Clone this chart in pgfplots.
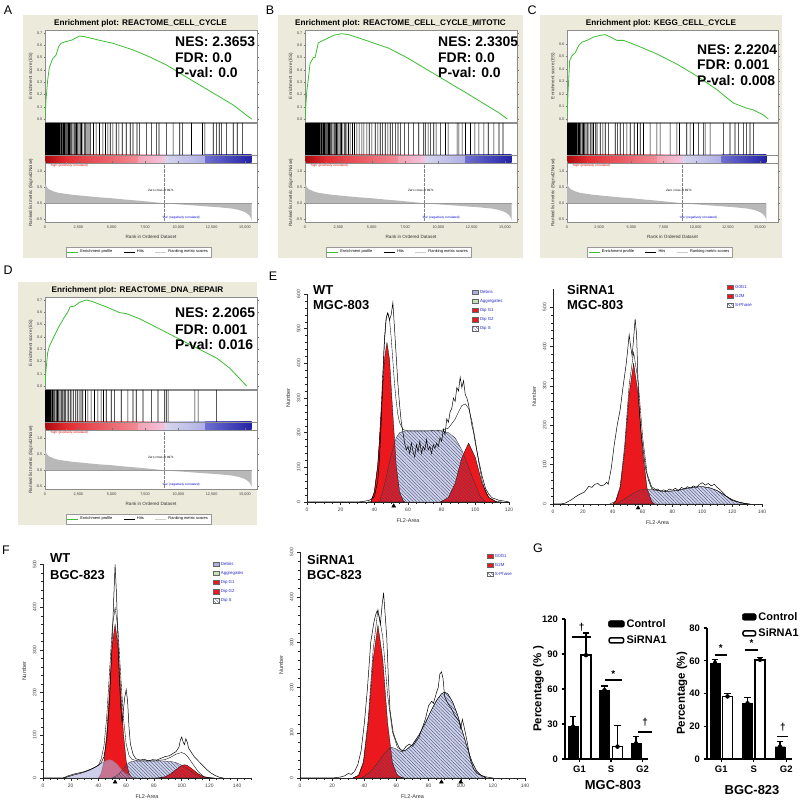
\documentclass[border=0pt]{standalone}
\usepackage{pgfplots}
\pgfplotsset{compat=1.18}
\usepackage{pgfplotstable}
\usepackage{fontspec}
\setmainfont{Liberation Sans}
\usetikzlibrary{patterns.meta}

\definecolor{boxbg}{RGB}{236,234,218}
\definecolor{esgreen}{RGB}{60,190,50}
\definecolor{sfill}{RGB}{208,212,232}
\definecolor{hatch}{RGB}{60,70,120}
\definecolor{cellred}{RGB}{235,25,30}
\definecolor{debris}{RGB}{175,175,222}
\definecolor{aggr}{RGB}{196,226,180}
\definecolor{legblue}{RGB}{40,40,200}
\definecolor{cbA}{RGB}{170,10,15}
\definecolor{cbB}{RGB}{225,45,50}
\definecolor{cbC}{RGB}{242,140,150}
\definecolor{cbD}{RGB}{244,196,222}
\definecolor{cbE}{RGB}{214,214,238}
\definecolor{cbF}{RGB}{175,175,228}
\definecolor{cbG}{RGB}{110,110,210}
\definecolor{cbH}{RGB}{35,35,165}

\newcommand{\ft}{\fontsize{3.8}{4.2}\selectfont}
\newcommand{\fs}{\fontsize{4.6}{5}\selectfont}
\newcommand{\fxs}{\fontsize{3.1}{3.4}\selectfont}
\newcommand{\ttlf}{\bfseries\fontsize{8.2}{9}\selectfont}
\newcommand{\nesf}{\bfseries\fontsize{14}{15}\selectfont}
\newcommand{\plab}{\fontsize{12.5}{13}\selectfont}
\newcommand{\cellf}{\bfseries\fontsize{13}{14}\selectfont}
\newcommand{\sigf}{\bfseries\fontsize{10}{10}\selectfont}

\tikzset{sh/.style={pattern={Lines[angle=-45,distance=2.4bp,line width=0.35bp]}, pattern color=hatch}}

\pgfplotstableread{
x y
0 0.66
50 0.58
150 0.50
300 0.44
600 0.38
1000 0.33
1500 0.30
2000 0.27
3000 0.23
4000 0.19
5000 0.16
6000 0.12
7000 0.085
8000 0.045
8971 0
10000 -0.03
11000 -0.06
12000 -0.09
13000 -0.12
14000 -0.16
14600 -0.21
15000 -0.27
15300 -0.36
15450 -0.46
15500 -0.53
}\rankdata

\pgfplotsset{
 /pgf/number format/assume math mode=true,
 gsea/.style={scale only axis, xmin=0, xmax=15900, scaled x ticks=false, scaled y ticks=false,
   axis line style={black!45, line width=0.4bp},
   tick style={black!55, line width=0.3bp}, major tick length=1.5bp, tick align=outside,
   ticklabel style={font=\ft, text=black!75, inner sep=1bp},
   label style={font=\fs, text=black!80},
   axis background/.style={fill=white}},
 gseaes/.style={gsea, height=92bp, ymin=-0.024, xtick=\empty,
   yticklabel style={/pgf/number format/.cd, fixed, fixed zerofill, precision=1},
   ylabel={Enrichment score (ES)},
   ylabel style={at={(axis description cs:-0.066,0.5)}, anchor=center}},
 gseahits/.style={gsea, height=40bp, ymin=-0.25, ymax=1, xtick=\empty, ytick=\empty},
 gsearank/.style={gsea, height=59bp, ymin=-0.58, ymax=1.26, ytick={-0.5,0,0.5,1},
   yticklabel style={/pgf/number format/.cd, fixed, fixed zerofill, precision=1},
   xtick={0,2500,5000,7500,10000,12500,15000},
   xticklabels={0,{2,500},{5,000},{7,500},{10,000},{12,500},{15,000}},
   xticklabel style={yshift=-1.5bp},
   xlabel={Rank in Ordered Dataset}, xlabel style={yshift=-1bp},
   ylabel={Ranked list metric (Signal2Noise)},
   ylabel style={at={(axis description cs:-0.066,0.5)}, anchor=center},
   legend columns=3,
   legend style={at={(axis description cs:0.44,-0.42)}, anchor=north, font=\fontsize{4}{4.4}\selectfont,
      draw=black!40, inner sep=1bp, /tikz/every even column/.append style={column sep=9bp}},
   legend image code/.code={\draw[##1] (0bp,0bp) -- (11bp,0bp);}},
 flow/.style={scale only axis, clip=false, axis lines=left,
   axis line style={-, line width=0.5bp, black!85}, xmin=0, ymin=0,
   tick align=outside, tick style={black!85, line width=0.4bp},
   major tick length=3bp, minor tick length=1.6bp,
   ticklabel style={font=\fontsize{5}{5}\selectfont, text=black!75},
   yticklabel style={rotate=90, anchor=south},
   xlabel={FL2-Area}, ylabel={Number},
   label style={font=\fontsize{5.5}{6}\selectfont, text=black!80},
   xtick distance=20, ytick distance=100, minor x tick num=3, minor y tick num=4,
   legend style={draw=none, fill=none, font=\fontsize{4.4}{4.8}\selectfont, text=legblue,
     inner sep=0pt, row sep=0.5bp, anchor=north west, cells={anchor=west}},
   legend image code/.code={\draw[##1, line width=0.3bp] (0bp,-1.9bp) rectangle (5.5bp,2.4bp);}},
 gbar/.style={scale only axis, clip=false, axis lines=left,
   axis line style={-, line width=1.4bp}, ymin=0,
   tick align=outside, tick style={black, line width=1.2bp}, major tick length=3.5bp,
   ticklabel style={font=\bfseries\fontsize{9.5}{10}\selectfont},
   xtick={0,1,2}, xticklabels={G1,S,G2},
   ylabel style={font=\bfseries\fontsize{11.5}{12}\selectfont, anchor=center},
   legend style={draw=none, fill=none, font=\bfseries\fontsize{11}{11}\selectfont,
     inner sep=0pt, row sep=3bp, anchor=north west, cells={anchor=west}},
   error bars/error bar style={line width=1.1bp, black},
   error bars/error mark options={rotate=90, mark size=3.3bp, line width=1.1bp, black}},
 errb/.style={only marks, mark=none, black, forget plot, error bars/.cd, y dir=plus, y explicit},
}

\newcommand{\cbar}{%
 \shade[left color=cbA, right color=cbB] (axis cs:0,-0.25) rectangle (axis cs:1600,0);
 \shade[left color=cbB, right color=cbC] (axis cs:1600,-0.25) rectangle (axis cs:7000,0);
 \shade[left color=cbC!60!cbD, right color=cbD] (axis cs:7000,-0.25) rectangle (axis cs:9000,0);
 \shade[left color=cbE, right color=cbF] (axis cs:9000,-0.25) rectangle (axis cs:12000,0);
 \shade[left color=cbG, right color=cbH] (axis cs:12000,-0.25) rectangle (axis cs:15500,0);
 \draw[black!45, line width=0.3bp] (axis cs:0,-0.25) -- (axis cs:17000,-0.25) (axis cs:0,0) -- (axis cs:17000,0);
}

\newcommand{\rankaxis}[1]{%
\begin{axis}[gsearank, #1]
 \addplot[fill=black!28, draw=none, forget plot] table {\rankdata} \closedcycle;
 \draw[black!40, line width=0.25bp] (axis cs:0,0) -- (axis cs:15500,0);
 \draw[black!50, densely dotted, line width=0.3bp] (axis cs:8971,-0.58) -- (axis cs:8971,1.26);
 \node[font=\fxs] at (axis cs:8700,0.4) {Zero cross at 8971};
 \node[font=\fxs, text=red!85!black, anchor=west] at (axis cs:150,1.17) {`high' (positively correlated)};
 \node[font=\fxs, text=blue!80!black] at (axis cs:10200,-0.46) {`low' (negatively correlated)};
 \addlegendimage{esgreen, line width=0.6bp}\addlegendentry{Enrichment profile}
 \addlegendimage{black, line width=0.6bp}\addlegendentry{Hits}
 \addlegendimage{black!20, line width=0.6bp}\addlegendentry{Ranking metric scores}
\end{axis}}

\begin{document}
\begin{tikzpicture}[x=1bp,y=1bp]
\useasboundingbox (0,0) rectangle (800,808);
\fill[white] (0,0) rectangle (800,808);

% ================= Panel labels
\node[font=\plab] at (8,798) {A};
\node[font=\plab] at (270,798) {B};
\node[font=\plab] at (532,798) {C};
\node[font=\plab] at (8,538) {D};
\node[font=\plab] at (273,532) {E};
\node[font=\plab] at (6,258) {F};
\node[font=\plab] at (538,260) {G};

% ================= Panel A
\fill[boxbg] (23,793) rectangle (258,550);
\node[font=\ttlf] at (140.5,785) {Enrichment plot: REACTOME\_CELL\_CYCLE};
\begin{axis}[gseaes, at={(45bp,778bp)}, anchor=north west, width=212bp, ymax=0.724, ytick={0,0.1,0.2,0.3,0.4,0.5,0.6,0.7}]
\addplot[esgreen, line width=0.8bp] coordinates {(0,0)(75,0.154)(200,0.316)(326,0.42)(577,0.49)(828,0.52)(1028,0.59)(1204,0.616)(1580,0.63)(1956,0.64)(2333,0.66)(2580,0.675)(2960,0.67)(3336,0.66)(4088,0.64)(5090,0.616)(6600,0.562)(7850,0.505)(9100,0.44)(10360,0.357)(11610,0.276)(12870,0.195)(14120,0.114)(15120,0.03)(15500,0)};
\end{axis}
\begin{axis}[gseahits, at={(45bp,685bp)}, anchor=north west, width=212bp]
\cbar
\addplot[ybar, bar width=0.6bp, fill=black, draw=none] coordinates {(15,1)(45,1)(80,1)(110,1)(150,1)(190,1)(230,1)(270,1)(310,1)(350,1)(400,1)(440,1)(480,1)(530,1)(580,1)(620,1)(670,1)(720,1)(770,1)(830,1)(880,1)(940,1)(1000,1)(1060,1)(1120,1)(1190,1)(1250,1)(1320,1)(1390,1)(1460,1)(1530,1)(1600,1)(1680,1)(1760,1)(1840,1)(1920,1)(2000,1)(2090,1)(2180,1)(2270,1)(2360,1)(2450,1)(2540,1)(2640,1)(2740,1)(2840,1)(2950,1)(3050,1)(3150,1)(3300,1)(3420,1)(3637,1)(3837,1)(4088,1)(4339,1)(4540,1)(4715,1)(4891,1)(5091,1)(5342,1)(5543,1)(5793,1)(6094,1)(6395,1)(6596,1)(6897,1)(7098,1)(7599,1)(7975,1)(8352,1)(8552,1)(9104,1)(9606,1)(10107,1)(10308,1)(10985,1)(11813,1)(11988,1)(12615,1)(12866,1)(13066,1)(13242,1)(13618,1)(14120,1)(14421,1)(14822,1)};
\end{axis}
\rankaxis{at={(45bp,645bp)}, anchor=north west, width=212bp}
\node[font=\nesf, anchor=west, inner sep=0] at (175,766) {NES: 2.3653};
\node[font=\nesf, anchor=west, inner sep=0] at (175,750) {FDR: 0.0};
\node[font=\nesf, anchor=west, inner sep=0] at (175,735) {P-val: 0.0};

% ================= Panel B
\fill[boxbg] (278,793) rectangle (523,550);
\node[font=\ttlf] at (400.5,785) {Enrichment plot: REACTOME\_CELL\_CYCLE\_MITOTIC};
\begin{axis}[gseaes, at={(305bp,778bp)}, anchor=north west, width=212bp, ymax=0.724, ytick={0,0.1,0.2,0.3,0.4,0.5,0.6,0.7}]
\addplot[esgreen, line width=0.8bp] coordinates {(0,0)(125,0.216)(250,0.327)(376,0.45)(627,0.5)(752,0.5)(1003,0.62)(1379,0.64)(1756,0.66)(2132,0.68)(2383,0.686)(2759,0.694)(3260,0.686)(4013,0.66)(5016,0.623)(6270,0.576)(7524,0.507)(9030,0.41)(10530,0.313)(12040,0.216)(13290,0.133)(14550,0.05)(15170,0)};
\end{axis}
\begin{axis}[gseahits, at={(305bp,685bp)}, anchor=north west, width=212bp]
\cbar
\addplot[ybar, bar width=0.6bp, fill=black, draw=none] coordinates {(15,1)(45,1)(80,1)(110,1)(150,1)(190,1)(230,1)(270,1)(310,1)(350,1)(400,1)(440,1)(480,1)(530,1)(580,1)(620,1)(670,1)(720,1)(770,1)(830,1)(880,1)(940,1)(1000,1)(1060,1)(1120,1)(1190,1)(1250,1)(1320,1)(1390,1)(1460,1)(1530,1)(1600,1)(1680,1)(1760,1)(1840,1)(1920,1)(2000,1)(2090,1)(2180,1)(2270,1)(2360,1)(2450,1)(2540,1)(2640,1)(2740,1)(2840,1)(2950,1)(3050,1)(3135,1)(3260,1)(3386,1)(3561,1)(3712,1)(3887,1)(4063,1)(4264,1)(4414,1)(4640,1)(4815,1)(5016,1)(5267,1)(5467,1)(5643,1)(5819,1)(6019,1)(6220,1)(6395,1)(6571,1)(6772,1)(6972,1)(7148,1)(7474,1)(7775,1)(8151,1)(8527,1)(8903,1)(9029,1)(9229,1)(9405,1)(9656,1)(9831,1)(10157,1)(10534,1)(10734,1)(11411,1)(11537,1)(11788,1)(12038,1)(12415,1)(12741,1)(13042,1)(13418,1)(13744,1)(14170,1)(14546,1)(14847,1)};
\end{axis}
\rankaxis{at={(305bp,645bp)}, anchor=north west, width=212bp}
\node[font=\nesf, anchor=west, inner sep=0] at (438,766) {NES: 2.3305};
\node[font=\nesf, anchor=west, inner sep=0] at (438,750) {FDR: 0.0};
\node[font=\nesf, anchor=west, inner sep=0] at (438,735) {P-val: 0.0};

% ================= Panel C
\fill[boxbg] (540,793) rectangle (782,550);
\node[font=\ttlf] at (661,785) {Enrichment plot: KEGG\_CELL\_CYCLE};
\begin{axis}[gseaes, at={(567bp,778bp)}, anchor=north west, width=211bp, xmax=16400, ymax=0.71, ytick={0,0.1,0.2,0.3,0.4,0.5,0.6}]
\addplot[esgreen, line width=0.8bp] coordinates {(0,0)(78,0.208)(207,0.465)(388,0.505)(646,0.53)(905,0.586)(1164,0.613)(1551,0.627)(2069,0.654)(2586,0.667)(2974,0.673)(3362,0.654)(3879,0.627)(4396,0.627)(5430,0.586)(6982,0.519)(8534,0.438)(10085,0.343)(11637,0.235)(12930,0.127)(13965,0.086)(14482,0.073)(15258,0.032)(15645,0)};
\end{axis}
\begin{axis}[gseahits, at={(567bp,685bp)}, anchor=north west, width=211bp, xmax=16400]
\cbar
\addplot[ybar, bar width=0.6bp, fill=black, draw=none] coordinates {(15,1)(45,1)(80,1)(120,1)(160,1)(200,1)(250,1)(300,1)(350,1)(400,1)(450,1)(510,1)(570,1)(630,1)(700,1)(770,1)(850,1)(930,1)(1010,1)(1100,1)(1190,1)(1280,1)(1380,1)(1480,1)(1580,1)(1700,1)(1820,1)(1940,1)(2060,1)(2200,1)(2330,1)(2586,1)(2793,1)(2974,1)(3233,1)(3750,1)(3931,1)(4138,1)(4396,1)(4655,1)(4913,1)(5224,1)(5482,1)(5689,1)(5948,1)(6465,1)(6982,1)(7241,1)(8017,1)(8534,1)(8741,1)(9310,1)(9568,1)(9827,1)(10215,1)(10603,1)(10732,1)(11120,1)(12154,1)(12671,1)(13059,1)(13318,1)(13706,1)(13964,1)(14223,1)(14482,1)};
\end{axis}
\rankaxis{at={(567bp,645bp)}, anchor=north west, width=211bp, xmax=16400}
\node[font=\nesf, anchor=west, inner sep=0] at (697,758) {NES: 2.2204};
\node[font=\nesf, anchor=west, inner sep=0] at (697,743) {FDR: 0.001};
\node[font=\nesf, anchor=west, inner sep=0] at (697,727) {P-val: 0.008};

% ================= Panel D
\fill[boxbg] (18,526) rectangle (257,283);
\node[font=\ttlf] at (137.5,518) {Enrichment plot: REACTOME\_DNA\_REPAIR};
\begin{axis}[gseaes, at={(45bp,511bp)}, anchor=north west, width=212bp, ymax=0.724, ytick={0,0.1,0.2,0.3,0.4,0.5,0.6,0.7}]
\addplot[esgreen, line width=0.8bp] coordinates {(0,0)(75,0.13)(200,0.27)(326,0.325)(577,0.38)(828,0.436)(1078,0.49)(1455,0.56)(1706,0.60)(1881,0.644)(2207,0.65)(2583,0.68)(3085,0.70)(3587,0.686)(4088,0.664)(4590,0.644)(5593,0.597)(6095,0.589)(7098,0.547)(8603,0.464)(10108,0.38)(11613,0.297)(12867,0.228)(13870,0.144)(15125,0)};
\end{axis}
\begin{axis}[gseahits, at={(45bp,418bp)}, anchor=north west, width=212bp]
\cbar
\addplot[ybar, bar width=0.6bp, fill=black, draw=none] coordinates {(20,1)(60,1)(110,1)(160,1)(220,1)(280,1)(340,1)(400,1)(460,1)(530,1)(600,1)(680,1)(760,1)(850,1)(940,1)(1030,1)(1130,1)(1230,1)(1330,1)(1440,1)(1550,1)(1660,1)(1780,1)(1900,1)(2020,1)(2150,1)(2280,1)(2420,1)(2560,1)(2700,1)(2834,1)(3035,1)(3210,1)(3461,1)(3712,1)(3963,1)(4213,1)(4389,1)(4590,1)(4966,1)(5217,1)(5718,1)(6220,1)(6596,1)(6847,1)(7348,1)(7975,1)(8477,1)(8979,1)(9104,1)(9230,1)(11236,1)(11487,1)(12866,1)};
\end{axis}
\rankaxis{at={(45bp,378bp)}, anchor=north west, width=212bp}
\node[font=\nesf, anchor=west, inner sep=0] at (175,495) {NES: 2.2065};
\node[font=\nesf, anchor=west, inner sep=0] at (175,478) {FDR: 0.001};
\node[font=\nesf, anchor=west, inner sep=0] at (175,463) {P-val: 0.016};

% ================= Panel E left: WT MGC-803
\begin{axis}[flow, at={(307bp,306bp)}, anchor=south west, width=202bp, height=208bp, xmax=120, ymax=600,
  legend style={at={(0.817,1.029)}}]
\addplot[fill=sfill, draw=none, forget plot] coordinates {(43,0)(45,30)(47,70)(49,115)(51,155)(53,185)(55,200)(58,205)(70,205)(80,205)(84,200)(88,185)(92,150)(96,100)(100,50)(103,15)(106,0)} \closedcycle;
\addplot[fill=cellred, draw=black, line width=0.3bp, forget plot] coordinates {(38,0)(40,29)(42,105)(44,253)(46,412)(47.5,460)(49,412)(51,253)(53,105)(55,29)(57,5)(58,0)} \closedcycle;
\addplot[fill=cellred, draw=black, line width=0.3bp, forget plot] coordinates {(79,0)(80,2)(84,13)(88,54)(92,128)(96,170)(100,128)(104,54)(108,13)(112,2)(113,0)} \closedcycle;
\addplot[sh, draw=black!80, line width=0.3bp, forget plot] coordinates {(43,0)(45,30)(47,70)(49,115)(51,155)(53,185)(55,200)(58,205)(70,205)(80,205)(84,200)(88,185)(92,150)(96,100)(100,50)(103,15)(106,0)} \closedcycle;
\addplot[black, line width=0.35bp, forget plot] coordinates {(36,0)(38,1)(40,29)(42,105)(43,170)(44,268)(45,369)(46,462)(47,524)(47.5,540)(48,546)(49,527)(50,474)(51,408)(52,341)(53,290)(54,251)(55,229)(57,209)(60,205)(70,205)(80,207)(84,213)(88,239)(90,260)(92,278)(94,283)(96,270)(98,233)(100,178)(102,115)(104,62)(106,29)(108,13)(112,2)(116,0)};
\addplot[black, line width=0.5bp, forget plot] coordinates {(0,0)(30,0)(34,2)(37,5)(40,15)(42,60)(43,120)(44,220)(45,350)(46,470)(47,530)(48,545)(49,525)(50,540)(51,575)(52,500)(53,420)(54,340)(55,280)(56,230)(57,200)(58,170)(59,150)(60,160)(61,140)(62,170)(63,145)(64,130)(65,165)(66,145)(67,175)(68,140)(69,160)(70,150)(71,180)(72,150)(73,160)(74,140)(75,165)(76,155)(77,170)(78,160)(79,185)(80,175)(81,210)(82,195)(83,240)(84,230)(85,260)(86,270)(87,300)(88,290)(89,330)(90,320)(91,360)(92,330)(93,350)(94,310)(95,300)(96,280)(97,250)(98,220)(99,200)(100,170)(102,120)(104,75)(106,40)(108,22)(110,12)(114,5)(118,2)(120,0)};
\addplot[only marks, mark=triangle*, mark size=2.2bp, black, forget plot] coordinates {(51.5,-11.5)};
\addlegendimage{fill=debris, draw=black!60}\addlegendentry{Debris}
\addlegendimage{fill=aggr, draw=black!60}\addlegendentry{Aggregates}
\addlegendimage{fill=cellred, draw=black!60}\addlegendentry{Dip G1}
\addlegendimage{fill=cellred, draw=black!60}\addlegendentry{Dip G2}
\addlegendimage{sh, draw=black!60}\addlegendentry{Dip S}
\end{axis}
\node[font=\cellf, anchor=west, inner sep=0] at (313,518) {WT};
\node[font=\cellf, anchor=west, inner sep=0] at (313,503) {MGC-803};

% ================= Panel E right: SiRNA1 MGC-803
\begin{axis}[flow, at={(553bp,304bp)}, anchor=south west, width=209bp, height=214.7bp, xmax=140, ymax=545,
  legend style={at={(0.833,1.029)}}]
\addplot[fill=sfill, draw=none, forget plot] coordinates {(42,0)(46,8)(50,18)(54,28)(58,35)(62,38)(66,37)(70,34)(75,32)(80,33)(85,36)(90,40)(95,43)(100,44)(105,41)(110,34)(115,22)(120,11)(125,4)(130,0)} \closedcycle;
\addplot[fill=cellred, draw=black, line width=0.3bp, forget plot] coordinates {(40,0)(42,7)(45,40)(48,135)(51,280)(54,357)(57,280)(60,135)(63,40)(66,7)(68,0)} \closedcycle;
\addplot[sh, draw=black!80, line width=0.3bp, forget plot] coordinates {(42,0)(46,8)(50,18)(54,28)(58,35)(62,38)(66,37)(70,34)(75,32)(80,33)(85,36)(90,40)(95,43)(100,44)(105,41)(110,34)(115,22)(120,11)(125,4)(130,0)} \closedcycle;
\addplot[black, line width=0.35bp, forget plot] coordinates {(38,0)(42,7)(45,45)(48,148)(51,302)(54,385)(57,313)(60,171)(63,78)(66,44)(70,34)(75,32)(80,33)(85,36)(90,40)(95,43)(100,44)(105,41)(110,34)(115,22)(120,11)(125,4)(130,0)};
\addplot[black, line width=0.5bp, forget plot] coordinates {(0,0)(5,0)(8,2)(12,10)(15,18)(18,25)(21,30)(24,45)(26,42)(28,50)(30,52)(32,46)(34,48)(36,55)(37,50)(39,90)(41,150)(43,200)(45,240)(47,300)(49,355)(50,390)(51,430)(52,400)(53,375)(54,420)(55,470)(56,430)(57,300)(58,230)(59,180)(60,150)(62,90)(64,60)(66,40)(68,35)(70,38)(72,32)(74,36)(76,33)(78,38)(80,35)(82,40)(84,34)(86,42)(88,38)(90,44)(92,40)(94,46)(96,42)(98,50)(100,54)(102,48)(104,52)(106,46)(108,50)(110,42)(112,36)(114,28)(116,20)(118,14)(120,9)(124,5)(128,2)(132,0)};
\addplot[only marks, mark=triangle*, mark size=2.2bp, black, forget plot] coordinates {(57,-10)};
\addlegendimage{fill=cellred, draw=black!60}\addlegendentry{G0G1}
\addlegendimage{fill=cellred, draw=black!60}\addlegendentry{G2M}
\addlegendimage{sh, draw=black!60}\addlegendentry{S-Phase}
\end{axis}
\node[font=\cellf, anchor=west, inner sep=0] at (567,518) {SiRNA1};
\node[font=\cellf, anchor=west, inner sep=0] at (567,503) {MGC-803};

% ================= Panel F left: WT BGC-823
\begin{axis}[flow, at={(43bp,30bp)}, anchor=south west, width=208bp, height=213.5bp, xmax=150, ymax=500,
  legend style={at={(0.817,1.021)}}]
\addplot[fill=sfill, draw=none, forget plot] coordinates {(50,0)(53,5)(56,14)(58,22)(60,30)(62,36)(64,39)(68,40)(75,40)(85,40)(92,39)(96,36)(100,30)(104,22)(108,13)(112,5)(116,0)} \closedcycle;
\addplot[fill=cellred, draw=black, line width=0.3bp, forget plot] coordinates {(40,0)(42,11)(44,39)(46,104)(48,207)(50,313)(52,360)(54,313)(56,207)(58,104)(60,39)(62,11)(64,2)(65,0)} \closedcycle;
\addplot[fill=cellred, draw=black, line width=0.3bp, forget plot] coordinates {(82,0)(84,0.7)(88,3)(92,9.5)(96,20)(100,29.6)(102,31)(104,29.6)(108,20)(112,9.5)(116,3)(120,0.7)(122,0)} \closedcycle;
\addplot[fill=debris, fill opacity=0.6, draw=black!50, line width=0.3bp, forget plot] coordinates {(15,0)(18,3)(22,7)(26,10)(30,14)(34,19)(38,26)(42,34)(46,41)(48,43)(50,41)(52,36)(54,30)(56,22)(58,15)(60,10)(62,6)(64,3)(66,1)(68,0)} \closedcycle;
\addplot[sh, draw=black!80, line width=0.3bp, forget plot] coordinates {(50,0)(53,5)(56,14)(58,22)(60,30)(62,36)(64,39)(68,40)(75,40)(85,40)(92,39)(96,36)(100,30)(104,22)(108,13)(112,5)(116,0)} \closedcycle;
\addplot[black, line width=0.35bp, forget plot] coordinates {(15,0)(18,3)(22,7)(26,10)(30,14)(34,19)(38,26)(40,30)(42,45)(44,76)(46,145)(48,250)(50,354)(52,399)(54,351)(56,243)(58,141)(60,79)(62,53)(64,44)(68,40)(80,40)(88,43)(92,48.5)(96,56)(100,59.6)(102,57)(104,51.6)(108,33)(112,14.5)(116,3)(120,0.7)(124,0)};
\addplot[black, line width=0.5bp, forget plot] coordinates {(0,0)(14,0)(16,2)(18,5)(22,9)(26,12)(30,15)(34,20)(38,26)(40,30)(42,36)(44,50)(46,90)(48,180)(49,260)(50,330)(51,420)(52,500)(53,430)(54,330)(55,240)(56,170)(57,130)(58,160)(59,190)(60,207)(61,180)(62,120)(63,80)(65,55)(67,45)(70,42)(73,44)(76,40)(79,43)(82,42)(85,46)(88,50)(91,52)(94,58)(96,62)(98,72)(99,88)(100,96)(101,85)(102,78)(103,92)(104,84)(105,70)(107,60)(109,50)(112,40)(115,30)(118,20)(121,12)(124,6)(127,2)(130,0)};
\addplot[only marks, mark=triangle*, mark size=2.2bp, black, forget plot] coordinates {(52,-9.4)};
\addlegendimage{fill=debris, draw=black!60}\addlegendentry{Debris}
\addlegendimage{fill=aggr, draw=black!60}\addlegendentry{Aggregates}
\addlegendimage{fill=cellred, draw=black!60}\addlegendentry{Dip G1}
\addlegendimage{fill=cellred, draw=black!60}\addlegendentry{Dip G2}
\addlegendimage{sh, draw=black!60}\addlegendentry{Dip S}
\end{axis}
\node[font=\cellf, anchor=west, inner sep=0] at (50,250) {WT};
\node[font=\cellf, anchor=west, inner sep=0] at (50,233) {BGC-823};

% ================= Panel F right: SiRNA1 BGC-823
\begin{axis}[flow, at={(300bp,30bp)}, anchor=south west, width=225bp, height=226bp, xmax=140, ymax=500,
  legend style={at={(0.831,1.0)}}]
\addplot[fill=sfill, draw=none, forget plot] coordinates {(38,0)(41,6)(44,14)(48,32)(52,52)(55,64)(57,68)(60,64)(63,58)(66,62)(70,74)(74,95)(78,122)(82,152)(85,172)(88,186)(90,190)(92,186)(95,168)(98,140)(101,104)(104,68)(107,36)(110,15)(113,5)(116,0)} \closedcycle;
\addplot[fill=cellred, draw=black, line width=0.3bp, forget plot] coordinates {(33,0)(36.5,6)(39.5,34)(42.5,122)(45.5,262)(48.5,338)(51.5,262)(54.5,122)(57.5,34)(60.5,6)(63.5,1)(65,0)} \closedcycle;
\addplot[sh, draw=black!80, line width=0.3bp, forget plot] coordinates {(38,0)(41,6)(44,14)(48,32)(52,52)(55,64)(57,68)(60,64)(63,58)(66,62)(70,74)(74,95)(78,122)(82,152)(85,172)(88,186)(90,190)(92,186)(95,168)(98,140)(101,104)(104,68)(107,36)(110,15)(113,5)(116,0)} \closedcycle;
\addplot[black, line width=0.35bp, forget plot] coordinates {(33,0)(36.5,6)(39.5,37)(42.5,132)(45.5,283)(48.5,373)(51.5,312)(54.5,184)(57.5,102)(60.5,69)(63.5,59)(66,62)(70,74)(74,95)(78,122)(82,152)(85,172)(88,186)(90,190)(92,186)(95,168)(98,140)(101,104)(104,68)(107,36)(110,15)(113,5)(116,0)};
\addplot[black, line width=0.5bp, forget plot] coordinates {(0,0)(20,0)(25,2)(28,5)(30,10)(32,8)(34,15)(36,30)(38,60)(40,120)(42,200)(44,300)(46,345)(47,360)(48,370)(49,360)(50,340)(51,380)(52,410)(53,360)(54,310)(55,220)(56,150)(58,100)(60,80)(62,65)(64,60)(66,70)(68,75)(70,70)(72,80)(74,90)(76,110)(78,130)(80,160)(82,170)(83,165)(85,190)(86,200)(87,230)(88,235)(89,220)(90,180)(92,165)(94,155)(96,140)(98,130)(99,125)(100,110)(101,130)(102,115)(104,80)(106,40)(108,20)(110,10)(115,3)(120,0)};
\addplot[only marks, mark=triangle*, mark size=2.2bp, black, forget plot] coordinates {(88,-8.8)(100,-8.8)};
\addlegendimage{fill=cellred, draw=black!60}\addlegendentry{G0G1}
\addlegendimage{fill=cellred, draw=black!60}\addlegendentry{G2M}
\addlegendimage{sh, draw=black!60}\addlegendentry{S-Phase}
\end{axis}
\node[font=\cellf, anchor=west, inner sep=0] at (307,248) {SiRNA1};
\node[font=\cellf, anchor=west, inner sep=0] at (307,233) {BGC-823};

% ================= Panel G left: MGC-803
\begin{axis}[gbar, at={(565bp,49bp)}, anchor=south west, width=83bp, height=140bp,
  xmin=-0.46, xmax=2.175, ymax=120, ytick={0,30,60,90,120},
  ylabel={Percentage (\% )}, ylabel style={at={(axis description cs:-0.32,0.5)}},
  legend style={at={(0.518,1.014)}}]
\addplot[errb] coordinates {(-0.206,27.7) +- (0,8.6) (0.794,59) +- (0,3.6) (1.794,13.4) +- (0,5.6) (0.206,89) +- (0,19) (1.206,10.6) +- (0,18.4)};
\addplot[ybar, bar width=0.317, bar shift=-0.206, fill=black, draw=black, forget plot] coordinates {(0,27.7) (1,59) (2,13.4)};
\addplot[ybar, bar width=0.317, bar shift=0.206, fill=white, draw=black, line width=1.5bp, forget plot] coordinates {(0,89) (1,10.6)};
\draw[line width=1.8bp] (axis cs:-0.25,104.6) -- (axis cs:0.38,104.6);
\node[font=\sigf] at (axis cs:0.065,113) {†};
\draw[line width=1.8bp] (axis cs:0.81,67.7) -- (axis cs:1.34,67.7);
\node[font=\sigf] at (axis cs:1.07,72.5) {*};
\draw[line width=1.8bp] (axis cs:1.87,23.4) -- (axis cs:2.29,23.4);
\node[font=\sigf] at (axis cs:2.08,31.5) {†};
\addlegendimage{legend image code/.code={\draw[fill=black, rounded corners=2bp] (0bp,-3.3bp) rectangle (16bp,3.3bp);}}
\addlegendentry{Control}
\addlegendimage{legend image code/.code={\draw[fill=white, line width=1.5bp, rounded corners=2bp] (0.7bp,-2.6bp) rectangle (15.3bp,2.6bp);}}
\addlegendentry{SiRNA1}
\end{axis}
\node[font=\cellf] at (613,23) {MGC-803};

% ================= Panel G right: BGC-823
\begin{axis}[gbar, at={(707bp,49bp)}, anchor=south west, width=85bp, height=131bp,
  xmin=-0.438, xmax=2.177, ymax=80, ytick={0,20,40,60,80},
  ylabel={Percentage (\%)}, ylabel style={at={(axis description cs:-0.294,0.5)}},
  legend style={at={(0.41,1.137)}}]
\addplot[errb] coordinates {(-0.192,58.6) +- (0,2) (0.808,34) +- (0,3.8) (1.808,7.5) +- (0,3.1) (0.192,38.2) +- (0,2) (1.192,60.6) +- (0,1.6)};
\addplot[ybar, bar width=0.3, bar shift=-0.192, fill=black, draw=black, forget plot] coordinates {(0,58.6) (1,34) (2,7.5)};
\addplot[ybar, bar width=0.3, bar shift=0.192, fill=white, draw=black, line width=1.5bp, forget plot] coordinates {(0,38.2) (1,60.6)};
\draw[line width=1.8bp] (axis cs:-0.19,63.7) -- (axis cs:0.17,63.7);
\node[font=\sigf] at (axis cs:-0.01,67.5) {*};
\draw[line width=1.8bp] (axis cs:0.73,66.7) -- (axis cs:1.13,66.7);
\node[font=\sigf] at (axis cs:0.93,70.5) {*};
\draw[line width=1.8bp] (axis cs:1.73,13.7) -- (axis cs:2.06,13.7);
\node[font=\sigf] at (axis cs:1.9,19.5) {†};
\addlegendimage{legend image code/.code={\draw[fill=black, rounded corners=2bp] (0bp,-3.3bp) rectangle (14bp,3.3bp);}}
\addlegendentry{Control}
\addlegendimage{legend image code/.code={\draw[fill=white, line width=1.5bp, rounded corners=2bp] (0.7bp,-2.6bp) rectangle (13.3bp,2.6bp);}}
\addlegendentry{SiRNA1}
\end{axis}
\node[font=\cellf] at (752,18) {BGC-823};

\end{tikzpicture}
\end{document}
